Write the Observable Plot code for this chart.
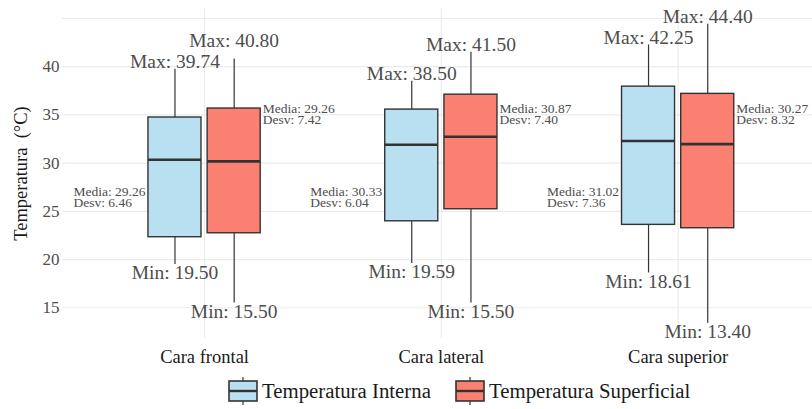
<!DOCTYPE html>
<html>
<head>
<meta charset="utf-8">
<script src="https://cdn.jsdelivr.net/npm/d3@7"></script>
<script src="https://cdn.jsdelivr.net/npm/@observablehq/plot@0.6"></script>
<style>
  html, body { margin: 0; padding: 0; background: #fff; }
  #chart svg { display: block; }
  .legend { position: relative; height: 37px; width: 812px; font-family: "Liberation Serif", "Times New Roman", serif; }
  .legend .item { position: absolute; top: 0; display: flex; align-items: center; height: 37px; font-size: 20.8px; color: #1a1a1a; }
  .legend svg { display: block; margin-right: 4px; }
</style>
</head>
<body>
<div id="chart"></div>
<div class="legend" id="legend"></div>
<script>
// ---- Data ----
const categories = ["Cara frontal", "Cara lateral", "Cara superior"];
const seriesNames = ["Temperatura Interna", "Temperatura Superficial"];
const seriesColors = ["#b8e0f0", "#fa8072"];

const internaMin    = [19.50, 19.59, 18.61];
const internaQ1     = [22.32, 23.97, 23.60];
const internaMedian = [30.35, 31.90, 32.29];
const internaQ3     = [34.73, 35.55, 37.93];
const internaMax    = [39.74, 38.50, 42.25];
const internaMean   = [29.26, 30.33, 31.02];
const internaSd     = [6.46, 6.04, 7.36];

const superMin    = [15.50, 15.50, 13.40];
const superQ1     = [22.73, 25.22, 23.25];
const superMedian = [30.18, 32.73, 31.97];
const superQ3     = [35.66, 37.10, 37.18];
const superMax    = [40.80, 41.50, 44.40];
const superMean   = [29.26, 30.87, 30.27];
const superSd     = [7.42, 7.40, 8.32];

const yTicks = [15, 20, 25, 30, 35, 40];
const yGrid = [15, 20, 25, 30, 35, 40, 45];

// ---- Build table ----
const dodge = 0.125, half = 0.112;
const stats = [
  [internaMin, internaQ1, internaMedian, internaQ3, internaMax, internaMean, internaSd],
  [superMin, superQ1, superMedian, superQ3, superMax, superMean, superSd]
];
const rows = [];
categories.forEach((c, i) => {
  seriesNames.forEach((s, k) => {
    const [mn, q1, md, q3, mx, me, sd] = stats[k].map(a => a[i]);
    const xc = i + (k === 0 ? -dodge : dodge);
    rows.push({cat: c, i, series: s, k, xc, x1: xc - half, x2: xc + half,
      min: mn, q1, median: md, q3, max: mx, mean: me, sd});
  });
});
// label anchors (value units) for the mean/sd notes
const noteY = [26.4, 35.0];
// overlapping max labels are pushed up (like ggrepel)
const pushed = rows.filter(d => d.k === 1 && Math.abs(d.max - rows.find(r => r.i === d.i && r.k === 0).max) < 1.5);
const notPushed = rows.filter(d => !pushed.includes(d));

const font = "Liberation Serif, Times New Roman, serif";
const txt = "#4d4d4d";
const note = d => `Media: ${d.mean.toFixed(2)}\nDesv: ${d.sd.toFixed(2)}`;

const chart = Plot.plot({
  width: 812,
  height: 372,
  marginLeft: 62,
  marginRight: 0,
  marginTop: 8,
  marginBottom: 34,
  style: {fontFamily: font, background: "#fff"},
  x: {type: "linear", domain: [-0.6, 2.6], range: [62, 819.7]},
  y: {domain: [11.82, 46.03], range: [338, 8]},
  marks: [
    Plot.ruleY(yGrid, {y: d => d, stroke: "#ebebeb", strokeWidth: 1.1}),
    Plot.ruleX([0, 1, 2], {x: d => d, stroke: "#ebebeb", strokeWidth: 1.1}),
    Plot.axisY(yTicks, {tickSize: 0, tickPadding: 3, fontSize: 17, fill: txt, label: null}),
    Plot.axisY([], {tickSize: 0, fontSize: 18.5, fill: "#1a1a1a",
      label: "Temperatura  (°C)", labelAnchor: "center", labelArrow: "none", labelOffset: 49}),
    Plot.axisX([0, 1, 2], {tickSize: 0, tickPadding: 11, fontSize: 18.5, fill: "#1a1a1a",
      tickFormat: i => categories[i], label: null}),
    Plot.ruleX(rows, {x: "xc", y1: "min", y2: "max", stroke: "#333", strokeWidth: 1.2}),
    Plot.rect(rows, {x1: "x1", x2: "x2", y1: "q1", y2: "q3", fill: d => seriesColors[d.k], stroke: "#333", strokeWidth: 1.4}),
    Plot.ruleY(rows, {x1: "x1", x2: "x2", y: "median", stroke: "#333", strokeWidth: 2.6}),
    Plot.text(notPushed, {x: "xc", y: "max", text: d => `Max: ${d.max.toFixed(2)}`, lineAnchor: "bottom", dy: -1, fontSize: 19.5, fill: txt}),
    Plot.text(pushed, {x: "xc", y: "max", text: d => `Max: ${d.max.toFixed(2)}`, lineAnchor: "bottom", dy: -12, fontSize: 19.5, fill: txt}),
    Plot.text(rows, {x: "xc", y: "min", text: d => `Min: ${d.min.toFixed(2)}`, lineAnchor: "top", dy: 1, fontSize: 19.5, fill: txt}),
    Plot.text(rows.filter(d => d.k === 0), {x: "x1", y: () => noteY[0], text: note,
      textAnchor: "start", dx: -75, lineAnchor: "middle", lineHeight: 0.86, fontSize: 13.5, fill: txt}),
    Plot.text(rows.filter(d => d.k === 1), {x: "x2", y: () => noteY[1], text: note,
      textAnchor: "start", dx: 2, lineAnchor: "middle", lineHeight: 0.86, fontSize: 13.5, fill: txt})
  ]
});
document.getElementById("chart").appendChild(chart);

// ---- Legend ----
const legend = document.getElementById("legend");
const lefts = [228, 455];
seriesNames.forEach((s, k) => {
  const item = document.createElement("div");
  item.className = "item";
  item.style.left = lefts[k] + "px";
  item.innerHTML = `<svg width="30" height="30" viewBox="0 0 30 30">
    <line x1="15" x2="15" y1="1" y2="29" stroke="#333" stroke-width="1.2"/>
    <rect x="1" y="5" width="28" height="20" fill="${seriesColors[k]}" stroke="#333" stroke-width="1.6"/>
    <line x1="1" x2="29" y1="15" y2="15" stroke="#333" stroke-width="2.4"/>
  </svg><span>${s}</span>`;
  legend.appendChild(item);
});
</script>
</body>
</html>
